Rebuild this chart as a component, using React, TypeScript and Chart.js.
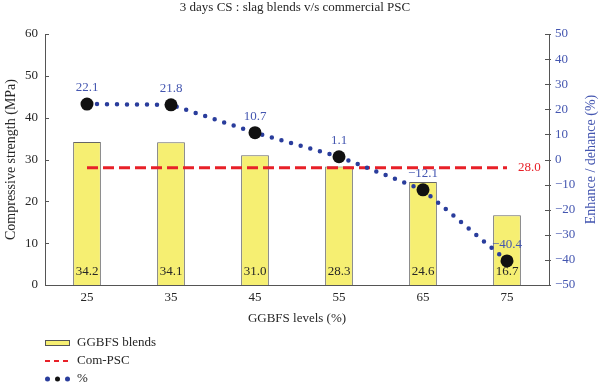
import { useEffect, useRef } from "react";
import { Chart, registerables } from "chart.js";

Chart.register(...registerables);

const categories = ["25", "35", "45", "55", "65", "75"];
const strength = [34.2, 34.1, 31.0, 28.3, 24.6, 16.7];
const comPSC = [28, 28, 28, 28, 28, 28];
const comPSCLabel = "28.0";
const enhance = [22.1, 21.8, 10.7, 1.1, -12.1, -40.4];
const chartTitle = "3 days CS : slag blends v/s commercial PSC";
const xTitle = "GGBFS levels (%)";
const yLeftTitle = "Compressive strength (MPa)";
const yRightTitle = "Enhance / dehance (%)";
const legendLabels = ["GGBFS blends", "Com-PSC", "%"];

const FONT = "'Liberation Serif', 'DejaVu Serif', serif";
const BLUE_TEXT = "#4456b0";
const BLUE_DOT = "#2a3d9c";
const RED = "#e82028";
const AXIS = "#555555";
const TEXT = "#262626";
const YELLOW = "#f6ef72";

const fmt = (v: number) => (v < 0 ? "\u2212" + Math.abs(v).toFixed(1) : v.toFixed(1));

const overlay = {
  id: "overlay",
  afterDatasetDraw(chart: any, args: any) {
    if (args.index !== 0) return;
    const ctx = chart.ctx;
    const { bottom } = chart.chartArea;
    ctx.save();
    ctx.font = `13px ${FONT}`;
    ctx.fillStyle = TEXT;
    ctx.textAlign = "center";
    ctx.textBaseline = "middle";
    chart.getDatasetMeta(0).data.forEach((el: any, i: number) => {
      ctx.fillText(strength[i].toFixed(1), el.x, bottom - 13);
    });
    ctx.restore();
  },
  afterDraw(chart: any) {
    const ctx = chart.ctx;
    const { left, right, top, bottom } = chart.chartArea;
    const yL = chart.scales.y;
    const yR = chart.scales.y1;
    ctx.save();
    // tick marks
    ctx.strokeStyle = AXIS;
    ctx.lineWidth = 1;
    ctx.beginPath();
    yL.ticks.forEach((t: any) => {
      const py = Math.round(yL.getPixelForValue(t.value)) + 0.5;
      ctx.moveTo(left, py);
      ctx.lineTo(left + 4, py);
    });
    yR.ticks.forEach((t: any) => {
      const py = Math.round(yR.getPixelForValue(t.value)) + 0.5;
      ctx.moveTo(right - 4, py);
      ctx.lineTo(right + 2, py);
    });
    ctx.stroke();

    ctx.font = `13px ${FONT}`;
    ctx.textBaseline = "middle";
    // % labels
    ctx.fillStyle = BLUE_TEXT;
    ctx.textAlign = "center";
    chart.getDatasetMeta(2).data.forEach((el: any, i: number) => {
      ctx.fillText(fmt(enhance[i]), el.x, el.y - 16);
    });
    // red label
    const rd = chart.getDatasetMeta(1).data;
    const last = rd[rd.length - 1];
    ctx.fillStyle = RED;
    ctx.textAlign = "left";
    ctx.fillText(comPSCLabel, last.x + 11, last.y);

    // title
    ctx.fillStyle = TEXT;
    ctx.textAlign = "center";
    ctx.font = `13px ${FONT}`;
    ctx.fillText(chartTitle, (left + right) / 2 - 2, 8);

    // right axis title
    ctx.save();
    ctx.translate(591, (top + bottom) / 2);
    ctx.rotate(-Math.PI / 2);
    ctx.fillStyle = BLUE_TEXT;
    ctx.font = `14px ${FONT}`;
    ctx.fillText(yRightTitle, 0, 0);
    ctx.restore();

    // legend
    const lx = left;
    const rows = [343, 361, 379];
    ctx.font = `13px ${FONT}`;
    ctx.textAlign = "left";
    ctx.fillStyle = TEXT;
    legendLabels.forEach((t, i) => ctx.fillText(t, lx + 32, rows[i]));
    // swatch 1
    ctx.fillStyle = YELLOW;
    ctx.fillRect(lx + 0.5, rows[0] - 2.5, 24, 5);
    ctx.strokeStyle = "#555";
    ctx.lineWidth = 1;
    ctx.strokeRect(lx + 0.5, rows[0] - 2.5, 24, 5);
    // swatch 2
    ctx.strokeStyle = RED;
    ctx.lineWidth = 2;
    ctx.setLineDash([5, 4]);
    ctx.beginPath();
    ctx.moveTo(lx, rows[1]);
    ctx.lineTo(lx + 24, rows[1]);
    ctx.stroke();
    ctx.setLineDash([]);
    // swatch 3
    [BLUE_DOT, "#111", BLUE_DOT].forEach((c, i) => {
      ctx.fillStyle = c;
      ctx.beginPath();
      ctx.arc(lx + 2.5 + i * 10, rows[2], 2.5, 0, Math.PI * 2);
      ctx.fill();
    });
    ctx.restore();
  },
};

export default function App() {
  const ref = useRef<HTMLCanvasElement | null>(null);
  useEffect(() => {
    document.body.style.margin = "0";
    if (!ref.current) return;
    const chart = new Chart(ref.current, {
      type: "bar",
      data: {
        labels: categories,
        datasets: [
          {
            type: "bar",
            label: legendLabels[0],
            data: strength,
            yAxisID: "y",
            backgroundColor: YELLOW,
            borderColor: "#666",
            borderWidth: 1,
            barPercentage: 0.33,
            categoryPercentage: 1,
            order: 2,
          },
          {
            type: "line",
            label: legendLabels[1],
            data: comPSC,
            yAxisID: "y",
            borderColor: RED,
            borderWidth: 3,
            borderDash: [11, 5],
            pointRadius: 0,
            order: 1,
          },
          {
            type: "line",
            label: legendLabels[2],
            data: enhance,
            yAxisID: "y1",
            borderColor: BLUE_DOT,
            borderWidth: 4.5,
            borderDash: [0, 10],
            borderCapStyle: "round",
            pointRadius: 6.5,
            pointBackgroundColor: "#111",
            pointBorderWidth: 0,
            tension: 0,
            order: 0,
          },
        ] as any,
      },
      options: {
        animation: false,
        responsive: true,
        maintainAspectRatio: false,
        layout: { padding: { top: 34, bottom: 62, left: 0, right: 0 } },
        plugins: {
          legend: { display: false },
          title: { display: false },
          tooltip: { enabled: false },
        },
        scales: {
          x: {
            type: "category",
            offset: true,
            grid: { display: false, drawTicks: false },
            border: { display: true, color: AXIS, width: 1 },
            ticks: { padding: 5, color: TEXT, font: { family: FONT, size: 13 } },
            title: {
              display: true,
              text: xTitle,
              color: TEXT,
              font: { family: FONT, size: 13 },
              padding: { top: 0, bottom: 1 },
            },
            afterFit: (s: any) => {
              s.height = 42;
            },
          },
          y: {
            position: "left",
            min: 0,
            max: 60,
            ticks: { stepSize: 10, padding: 7, color: TEXT, font: { family: FONT, size: 13 } },
            grid: { display: false, drawTicks: false },
            border: { display: true, color: AXIS, width: 1 },
            title: {
              display: true,
              text: yLeftTitle,
              color: TEXT,
              font: { family: FONT, size: 14 },
              padding: { top: 3, bottom: 0 },
            },
            afterFit: (s: any) => {
              s.width = 45;
            },
          },
          y1: {
            position: "right",
            min: -50,
            max: 50,
            ticks: {
              stepSize: 10,
              padding: 6,
              color: BLUE_TEXT,
              font: { family: FONT, size: 13 },
              callback: (v: any) => (Number(v) < 0 ? "\u2212" + Math.abs(Number(v)) : String(v)),
            },
            grid: { display: false, drawTicks: false },
            border: { display: true, color: AXIS, width: 1 },
            afterFit: (s: any) => {
              s.width = 51;
            },
          },
        },
      } as any,
      plugins: [overlay],
    });
    return () => chart.destroy();
  }, []);
  return (
    <div style={{ width: 600, height: 389, position: "relative" }}>
      <canvas ref={ref} />
    </div>
  );
}
